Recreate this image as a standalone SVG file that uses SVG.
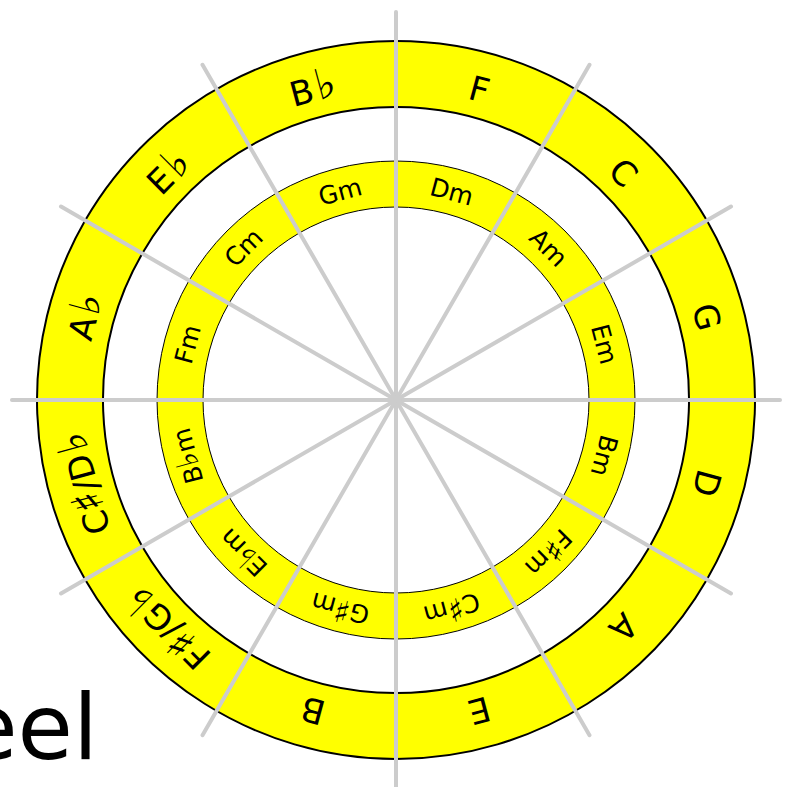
<svg xmlns="http://www.w3.org/2000/svg" width="786" height="787" viewBox="0 0 786 787">
<style>
text { font-family: "DejaVu Sans", "Liberation Sans", sans-serif; fill: #000; text-anchor: middle; }
.outer { font-size: 34px; }
.inner { font-size: 25px; }
.acc { font-size: 1.25em; }
.spoke { stroke: #cccccc; stroke-width: 4; stroke-linecap: round; fill: none; }
.ring1 { fill: #ffff00; fill-rule: evenodd; stroke: #000; stroke-width: 2; }
.ring2 { fill: #ffff00; fill-rule: evenodd; stroke: #000; stroke-width: 1; }
</style>
<rect width="786" height="787" fill="#fff"/>
<text x="98" y="759" style="font-size:90px;text-anchor:end">eel</text>
<g id="outer-ring">
<path class="ring1" d="M396,41 a359,359 0 1,0 0.01,0 Z M396,107 a293,293 0 1,0 0.01,0 Z"/>
</g>
<g id="inner-ring">
<path class="ring2" d="M396,161 a239,239 0 1,0 0.01,0 Z M396,207 a193,193 0 1,0 0.01,0 Z"/>
</g>
<g id="connectors">
<line class="spoke" x1="396" y1="12" x2="396" y2="788"/>
<line class="spoke" x1="12" y1="400" x2="780" y2="400"/>
<line class="spoke" x1="202.5" y1="64.8" x2="589.5" y2="735.2"/>
<line class="spoke" x1="589.5" y1="64.8" x2="202.5" y2="735.2"/>
<line class="spoke" x1="61" y1="206.5" x2="731" y2="593.5"/>
<line class="spoke" x1="731" y1="206.5" x2="61" y2="593.5"/>
</g>
<g id="outer-labels">
<g id="F"><text class="outer" x="396" y="90.4" transform="rotate(15 396 400)">F</text></g>
<g id="C"><text class="outer" x="396" y="90.4" transform="rotate(45 396 400)">C</text></g>
<g id="G"><text class="outer" x="396" y="90.4" transform="rotate(75 396 400)">G</text></g>
<g id="D"><text class="outer" x="396" y="90.4" transform="rotate(105 396 400)">D</text></g>
<g id="A"><text class="outer" x="396" y="90.4" transform="rotate(135 396 400)">A</text></g>
<g id="E"><text class="outer" x="396" y="90.4" transform="rotate(165 396 400)">E</text></g>
<g id="B"><text class="outer" x="396" y="90.4" transform="rotate(195 396 400)">B</text></g>
<g id="Fs-Gb"><text class="outer" x="396" y="90.4" transform="rotate(225 396 400)">F<tspan class="acc">♯</tspan>/G<tspan class="acc" dx="3">♭</tspan></text></g>
<g id="Cs-Db"><text class="outer" x="396" y="90.4" transform="rotate(255 396 400)">C<tspan class="acc">♯</tspan>/D<tspan class="acc" dx="3">♭</tspan></text></g>
<g id="Ab"><text class="outer" x="396" y="90.4" transform="rotate(285 396 400)">A<tspan class="acc" dx="3">♭</tspan></text></g>
<g id="Eb"><text class="outer" x="396" y="90.4" transform="rotate(315 396 400)">E<tspan class="acc" dx="3">♭</tspan></text></g>
<g id="Bb"><text class="outer" x="396" y="90.4" transform="rotate(345 396 400)">B<tspan class="acc" dx="3">♭</tspan></text></g>
</g>
<g id="inner-labels">
<g id="Dm"><text class="inner" x="396" y="193.1" transform="rotate(15 396 400)">Dm</text></g>
<g id="Am"><text class="inner" x="396" y="193.1" transform="rotate(45 396 400)">Am</text></g>
<g id="Em"><text class="inner" x="396" y="193.1" transform="rotate(75 396 400)">Em</text></g>
<g id="Bm"><text class="inner" x="396" y="193.1" transform="rotate(105 396 400)">Bm</text></g>
<g id="Fsm"><text class="inner" x="396" y="193.1" transform="rotate(135 396 400)">F<tspan class="acc">♯</tspan>m</text></g>
<g id="Csm"><text class="inner" x="396" y="193.1" transform="rotate(165 396 400)">C<tspan class="acc">♯</tspan>m</text></g>
<g id="Gsm"><text class="inner" x="396" y="193.1" transform="rotate(195 396 400)">G<tspan class="acc">♯</tspan>m</text></g>
<g id="Ebm"><text class="inner" x="396" y="193.1" transform="rotate(225 396 400)">E<tspan class="acc">♭</tspan>m</text></g>
<g id="Bbm"><text class="inner" x="396" y="193.1" transform="rotate(255 396 400)">B<tspan class="acc">♭</tspan>m</text></g>
<g id="Fm"><text class="inner" x="396" y="193.1" transform="rotate(285 396 400)">Fm</text></g>
<g id="Cm"><text class="inner" x="396" y="193.1" transform="rotate(315 396 400)">Cm</text></g>
<g id="Gm"><text class="inner" x="396" y="193.1" transform="rotate(345 396 400)">Gm</text></g>
</g>
</svg>
